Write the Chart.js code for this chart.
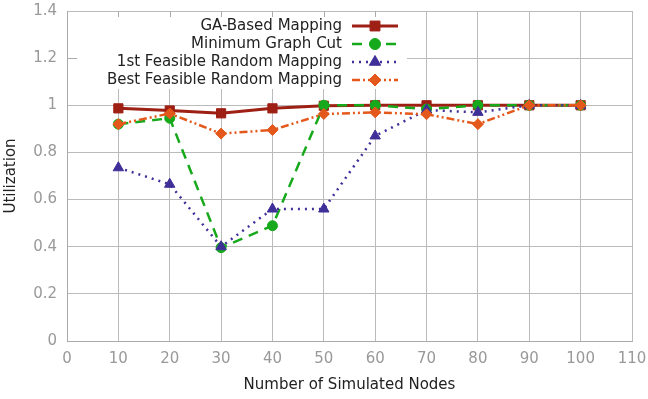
<!DOCTYPE html>
<html lang="en">
<head>
  <meta charset="UTF-8">
  <title>Utilization vs Simulated Nodes</title>
  <script src="https://cdn.jsdelivr.net/npm/chart.js"></script>
  <style>
    html, body { margin: 0; padding: 0; background: #fff; }
    #wrap { width: 648px; height: 399px; }
  </style>
</head>
<body>
  <div id="wrap"><canvas id="chart" width="648" height="399"></canvas></div>

  <script>
    // Data
    const nodes = [10, 20, 30, 40, 50, 60, 70, 80, 90, 100];
    const gaMapping = [0.987, 0.978, 0.966, 0.987, 0.998, 1.0, 1.0, 1.0, 1.0, 1.0];
    const minGraphCut = [0.92, 0.945, 0.396, 0.489, 1.0, 1.0, 0.984, 1.0, 1.0, 1.0];
    const firstFeasible = [0.735, 0.665, 0.40, 0.56, 0.56, 0.87, 0.98, 0.97, 1.0, 1.0];
    const bestFeasible = [0.92, 0.965, 0.88, 0.895, 0.963, 0.97, 0.962, 0.92, 1.0, 1.0];
    const seriesNames = ['GA-Based Mapping', 'Minimum Graph Cut', '1st Feasible Random Mapping', 'Best Feasible Random Mapping'];
    const xTicks = [0, 10, 20, 30, 40, 50, 60, 70, 80, 90, 100, 110];
    const yTicks = [0, 0.2, 0.4, 0.6, 0.8, 1, 1.2, 1.4];

    const FONT = 'DejaVu Sans';
    const toPts = arr => arr.map((v, i) => ({ x: nodes[i], y: v }));

    // gnuplot-style legend drawn inside the plot, text left of the sample
    const legendBox = {
      id: 'legendBox',
      afterDatasetsDraw(chart) {
        const ctx = chart.ctx;
        const xs = chart.scales.x, ys = chart.scales.y;
        ctx.save();
        ctx.fillStyle = '#fff';
        ctx.fillRect(xs.left + 1, ys.top + 1, 339, 77);
        // inner tick marks hidden by the box
        ctx.strokeStyle = '#aaa';
        ctx.lineWidth = 1;
        ctx.beginPath();
        xTicks.forEach(t => {
          const px = Math.round(xs.getPixelForValue(t)) + 0.5;
          if (px > xs.left + 2 && px < xs.left + 340) {
            ctx.moveTo(px, ys.top);
            ctx.lineTo(px, ys.top + 6);
          }
        });
        const py = Math.round(ys.getPixelForValue(1.2)) + 0.5;
        ctx.moveTo(xs.left, py);
        ctx.lineTo(xs.left + 10, py);
        ctx.stroke();

        ctx.font = '15px "' + FONT + '"';
        ctx.textAlign = 'right';
        ctx.textBaseline = 'middle';
        chart.data.datasets.forEach((ds, i) => {
          const y = 26 + i * 18;
          ctx.fillStyle = '#222';
          ctx.fillText(ds.label, 342, y);
          ctx.strokeStyle = ds.borderColor;
          ctx.lineWidth = ds.borderWidth;
          ctx.setLineDash(ds.borderDash || []);
          ctx.beginPath();
          ctx.moveTo(352, y);
          ctx.lineTo(398, y);
          ctx.stroke();
          ctx.setLineDash([]);
          ctx.fillStyle = ds.backgroundColor;
          ctx.strokeStyle = ds.backgroundColor;
          ctx.lineWidth = 1;
          Chart.helpers.drawPoint(ctx, {
            pointStyle: ds.pointStyle,
            radius: ds.pointRadius + 0.5,
            rotation: 0,
            borderWidth: 1
          }, 375, y);
        });
        ctx.restore();
      }
    };

    const mk = (label, data, color, style, radius, width, dash, order) => ({
      label: label,
      data: toPts(data),
      borderColor: color,
      backgroundColor: color,
      pointBackgroundColor: color,
      pointBorderColor: color,
      pointStyle: style,
      pointRadius: radius,
      pointBorderWidth: 1,
      borderWidth: width,
      borderDash: dash,
      order: order,
      tension: 0
    });

    new Chart(document.getElementById('chart'), {
      type: 'line',
      data: {
        datasets: [
          mk(seriesNames[0], gaMapping, '#9e1f14', 'rect', 6.5, 3, [], 4),
          mk(seriesNames[1], minGraphCut, '#17a91c', 'circle', 5, 2.5, [10, 7], 3),
          mk(seriesNames[2], firstFeasible, '#3f2f98', 'triangle', 6, 2.5, [2, 5], 2),
          mk(seriesNames[3], bestFeasible, '#e4591b', 'rectRot', 5.5, 2.5, [8, 3, 2, 3, 2, 3], 1)
        ]
      },
      plugins: [legendBox],
      options: {
        responsive: false,
        animation: false,
        layout: { padding: { top: 11, right: 16, left: 0, bottom: 0 } },
        plugins: {
          legend: { display: false },
          tooltip: { enabled: false }
        },
        scales: {
          x: {
            type: 'linear',
            min: 0,
            max: 110,
            afterBuildTicks: s => { s.ticks = xTicks.map(v => ({ value: v })); },
            afterFit: s => { s.height = 58; s.paddingLeft = 0; s.paddingRight = 0; },
            grid: { color: '#bbb', lineWidth: 1, drawTicks: false },
            border: { color: '#aaa', width: 1 },
            ticks: { color: '#999', padding: 9, font: { family: FONT, size: 15 } },
            title: {
              display: true,
              text: 'Number of Simulated Nodes',
              color: '#222',
              padding: { top: 0, bottom: 5 },
              font: { family: FONT, size: 15 }
            }
          },
          y: {
            min: 0,
            max: 1.4,
            afterBuildTicks: s => { s.ticks = yTicks.map(v => ({ value: v })); },
            afterFit: s => { s.width = 67; s.paddingTop = 0; s.paddingBottom = 0; },
            grid: { color: '#bbb', lineWidth: 1, drawTicks: false },
            border: { color: '#aaa', width: 1 },
            ticks: {
              color: '#999',
              padding: 10,
              font: { family: FONT, size: 15 },
              callback: v => String(Math.round(v * 10) / 10)
            },
            title: {
              display: true,
              text: 'Utilization',
              color: '#222',
              padding: { top: 2, bottom: 0 },
              font: { family: FONT, size: 15 }
            }
          }
        }
      }
    });
  </script>
</body>
</html>
